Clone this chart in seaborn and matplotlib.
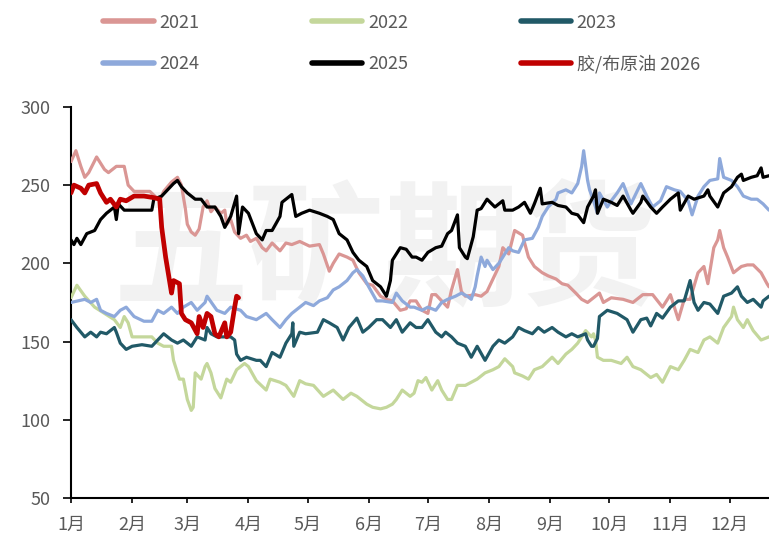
import numpy as np
import pandas as pd
import matplotlib
matplotlib.use("Agg")
import matplotlib.pyplot as plt
import seaborn as sns

sns.set_style("ticks")
plt.rcParams['font.family'] = ['Noto Sans CJK SC', 'DejaVu Sans']

# x = day of year, y = ratio
d2021 = [0, 2.5, 5, 7, 9, 13, 17, 19, 23, 27, 29, 32, 35, 40, 45, 47, 51, 54, 56, 58, 59, 61, 63, 65, 67, 69, 71, 73,
         76, 78, 79, 81, 83, 86, 89, 91, 94, 97, 99, 102, 106, 109, 112, 116, 121, 126, 128, 131, 133, 136, 140, 143,
         146, 150, 153, 157, 160, 163, 167, 170, 172, 175, 178, 181, 183, 185, 188, 191, 193, 196, 198, 200, 205, 208,
         211, 214, 217, 219, 222, 225, 229, 232, 235, 239, 242, 246, 249, 252, 256, 259, 262, 266, 268, 270, 274, 280,
         285, 290, 295, 300, 304, 308, 311, 314, 318, 321, 323, 326, 328, 329, 331, 333, 336, 340, 343, 346, 350, 353, 354]
v2021 = [265, 272, 262, 255, 258, 268, 260, 258, 262, 262, 250, 246, 246, 246, 240, 246, 252, 255, 250, 235, 225, 220,
         218, 222, 236, 240, 233, 236, 232, 234, 225, 228, 220, 216, 218, 214, 216, 210, 208, 213, 208, 213, 212, 214,
         211, 212, 206, 195, 200, 206, 204, 202, 194, 187, 186, 179, 177, 176, 170, 171, 176, 176, 170, 168, 180, 180,
         176, 172, 183, 196, 182, 179, 180, 179, 182, 190, 198, 210, 206, 221, 218, 204, 198, 194, 192, 190, 187, 186,
         181, 177, 175, 179, 181, 175, 178, 177, 175, 180, 180, 172, 180, 164, 177, 177, 194, 198, 187, 210, 215, 221,
         210, 204, 194, 198, 199, 199, 194, 187, 185]

d2022 = [0, 3, 7, 12, 17, 22, 25, 27, 29, 31, 36, 41, 44, 47, 51, 52, 55, 57, 59, 61, 62, 63, 66, 68, 69, 71, 73, 76,
         79, 81, 84, 88, 90, 94, 99, 101, 106, 109, 113, 116, 119, 123, 128, 133, 138, 142, 145, 148, 150, 153, 157,
         160, 163, 165, 168, 172, 174, 176, 178, 180, 183, 186, 188, 191, 193, 196, 200, 203, 206, 210, 214, 217, 220,
         224, 225, 229, 232, 235, 239, 244, 247, 251, 254, 257, 261, 264, 265, 266, 267, 270, 274, 279, 282, 285, 289,
         294, 297, 300, 304, 308, 311, 314, 318, 321, 324, 328, 331, 335, 336, 338, 341, 343, 346, 350, 354]
v2022 = [178, 186, 179, 172, 168, 164, 159, 166, 162, 153, 153, 153, 149, 147, 147, 138, 126, 126, 113, 106, 108, 130,
         126, 134, 136, 130, 120, 114, 126, 124, 132, 136, 134, 125, 119, 126, 124, 122, 115, 125, 123, 122, 115, 119,
         113, 117, 115, 112, 110, 108, 107, 108, 110, 113, 119, 115, 117, 125, 124, 127, 119, 125, 119, 113, 113, 122,
         122, 124, 126, 130, 132, 134, 139, 134, 130, 128, 126, 132, 134, 140, 136, 142, 145, 149, 157, 153, 155, 151,
         140, 138, 138, 136, 140, 134, 132, 127, 129, 124, 134, 132, 138, 145, 143, 151, 153, 149, 159, 166, 172, 164,
         159, 164, 157, 151, 153]

d2023 = [0, 3, 7, 10, 13, 15, 18, 22, 23, 25, 28, 31, 36, 41, 44, 47, 51, 54, 57, 61, 64, 68, 69, 71, 74, 78, 81, 83,
         84, 86, 89, 94, 96, 99, 102, 106, 109, 112, 112.5, 113, 116, 119, 125, 128, 131, 135, 138, 141, 145, 148, 151,
         155, 158, 162, 165, 168, 172, 175, 178, 181, 185, 188, 190, 193, 196, 200, 203, 206, 210, 214, 217, 220, 224,
         227, 230, 234, 237, 240, 244, 247, 251, 254, 257, 261, 262, 264, 265, 267, 268, 272, 277, 282, 285, 289, 292,
         294, 297, 300, 304, 308, 311, 314, 316, 318, 321, 324, 328, 331, 335, 338, 340, 343, 346, 350, 351, 354]
v2023 = [164, 159, 153, 156, 153, 156, 155, 159, 156, 149, 145, 147, 148, 147, 151, 155, 151, 149, 151, 147, 153, 151,
         159, 155, 153, 153, 153, 151, 142, 138, 140, 138, 138, 134, 143, 140, 149, 155, 162, 147, 156, 155, 156, 164,
         162, 159, 151, 159, 165, 156, 159, 164, 164, 159, 164, 156, 162, 159, 159, 164, 156, 153, 156, 153, 149, 147,
         140, 147, 138, 147, 151, 149, 153, 159, 157, 155, 159, 156, 159, 156, 153, 155, 153, 155, 151, 147, 147, 152,
         166, 170, 168, 164, 156, 164, 165, 160, 168, 165, 172, 176, 176, 189, 175, 170, 175, 174, 168, 179, 181, 185,
         179, 175, 177, 172, 176, 179]

d2024 = [0, 7, 10, 13, 15, 18, 22, 25, 28, 32, 37, 41, 44, 47, 51, 54, 57, 61, 64, 68, 69, 74, 78, 81, 86, 89, 94, 99,
         102, 106, 109, 112, 116, 119, 123, 126, 130, 133, 136, 140, 143, 145, 148, 151, 155, 158, 163, 165, 168, 172,
         174, 178, 181, 185, 188, 191, 195, 198, 201, 203, 205, 206, 208, 210, 211, 214, 217, 219, 222, 224, 227, 230,
         234, 237, 239, 242, 246, 247, 251, 254, 257, 259, 260, 262, 263, 265, 267, 268, 272, 274, 277, 280, 284, 289,
         292, 295, 299, 302, 306, 309, 313, 315, 318, 321, 324, 328, 329, 331, 335, 338, 341, 345, 348, 351, 354]
v2024 = [175, 177, 175, 177, 170, 168, 166, 170, 172, 166, 163, 163, 170, 168, 172, 168, 172, 175, 170, 175, 179, 170,
         168, 172, 170, 166, 164, 168, 164, 159, 164, 168, 172, 175, 173, 176, 178, 183, 185, 189, 194, 196, 192, 185,
         176, 176, 175, 181, 176, 172, 172, 170, 172, 170, 175, 177, 179, 181, 179, 177, 185, 192, 204, 198, 202, 196,
         200, 204, 210, 208, 207, 215, 216, 223, 230, 236, 241, 245, 247, 245, 251, 262, 272, 253, 247, 240, 232, 245,
         236, 240, 245, 251, 238, 251, 243, 236, 240, 249, 247, 246, 240, 231, 243, 249, 253, 254, 267, 255, 253, 249,
         243, 241, 241, 238, 234]

d2025 = [0, 1.5, 3, 5, 8, 12, 15, 18, 22, 23, 24, 27, 31, 36, 41, 42, 46, 49, 52, 54, 56, 59, 63, 66, 69, 73, 76, 78,
         81, 84, 85, 87, 90, 94, 97, 99, 102, 106, 107, 111, 112, 114, 117, 121, 126, 130, 133, 136, 140, 143, 146,
         150, 153, 157, 160, 162, 163, 167, 170, 173, 175, 178, 181, 185, 188, 191, 193, 196, 197, 200, 201, 204, 206,
         208, 211, 215, 219, 220, 224, 227, 230, 233, 235, 238, 239, 244, 247, 251, 254, 257, 260, 262, 265, 266, 267,
         270, 274, 277, 280, 284, 285, 289, 290, 294, 297, 300, 304, 308, 309, 313, 316, 321, 323, 324, 328, 331, 335,
         338, 340, 341, 345, 348, 350, 351, 354]
v2025 = [215, 212, 216, 212, 219, 221, 228, 232, 236, 228, 238, 234, 234, 234, 234, 241, 243, 247, 251, 253, 249, 245,
         241, 241, 236, 236, 230, 223, 230, 243, 219, 236, 232, 219, 215, 221, 221, 230, 239, 243, 244, 230, 232, 234,
         232, 230, 228, 219, 215, 207, 202, 198, 189, 185, 179, 189, 202, 210, 209, 204, 204, 202, 207, 210, 211, 219,
         221, 231, 210, 204, 203, 217, 234, 235, 241, 236, 240, 234, 234, 236, 239, 232, 238, 248, 238, 239, 237, 236,
         232, 231, 226, 236, 243, 247, 232, 241, 239, 237, 243, 234, 232, 239, 243, 236, 232, 236, 241, 245, 234, 243,
         241, 243, 247, 243, 236, 245, 249, 255, 257, 253, 255, 256, 261, 255, 256]

d2026 = [0, 1.5, 5, 7, 9, 13, 15, 18, 20, 23, 25, 28, 32, 37, 42, 45, 46, 48, 51, 52, 55, 56, 58, 61, 64, 65, 67, 69,
         71, 73, 75, 78, 79, 81, 83, 84, 85]
v2026 = [245, 250, 248, 245, 250, 251, 245, 239, 241, 236, 241, 240, 243, 243, 242, 241, 223, 204, 181, 189, 187, 168,
         164, 162, 155, 166, 159, 168, 166, 155, 153, 162, 153, 156, 172, 179, 178]

series = [
    ("2021", d2021, v2021, "#DA9694", 2.3),
    ("2022", d2022, v2022, "#C4D79B", 2.3),
    ("2023", d2023, v2023, "#215967", 2.3),
    ("2024", d2024, v2024, "#8EA9DB", 2.3),
    ("2025", d2025, v2025, "#000000", 2.3),
    ("胶/布原油 2026", d2026, v2026, "#C00000", 3.4),
]

month_days = [0, 31, 59, 90, 120, 151, 181, 212, 243, 273, 304, 334]
month_labels = [f"{m}月" for m in range(1, 13)]

fig = plt.figure(figsize=(7.69, 5.38), dpi=100)
ax = fig.add_axes([0.0923, 0.0743, 0.9077, 0.727])

# watermark
ax.text(0.45, 0.62, "五矿期货", transform=ax.transAxes, fontsize=98, fontweight="bold",
        color="#F2F2F2", ha="center", va="center", zorder=0)

lines = {}
for name, xs, ys, col, lw in series:
    df = pd.DataFrame({"day": xs, "val": ys})
    sns.lineplot(data=df, x="day", y="val", ax=ax, color=col, linewidth=lw, label=name,
                 legend=False, zorder=3)
    lines[name] = ax.lines[-1]

ax.set_xlim(0, 354)
ax.set_ylim(50, 300)
ax.set_yticks([50, 100, 150, 200, 250, 300])
ax.set_xticks(month_days)
ax.set_xticklabels(month_labels)
ax.set_xlabel("")
ax.set_ylabel("")
ax.tick_params(axis="both", labelsize=13, labelcolor="#595959", color="black", width=1.2, direction="out")
ax.tick_params(axis="y", length=6, pad=9)
ax.tick_params(axis="x", length=3.6, pad=9)
for s in ["top", "right"]:
    ax.spines[s].set_visible(False)
for s in ["left", "bottom"]:
    ax.spines[s].set_linewidth(1.5)
    ax.spines[s].set_color("black")

order = ["2021", "2024", "2022", "2025", "2023", "胶/布原油 2026"]
leg = fig.legend([lines[k] for k in order], order, ncol=3, loc="upper center",
                 bbox_to_anchor=(0.522, 1.005), frameon=False, fontsize=13,
                 handlelength=2.8, handletextpad=0.3, columnspacing=6.25, labelspacing=1.3)
for t in leg.get_texts():
    t.set_color("#595959")
for h in leg.legend_handles:
    h.set_linewidth(4)

fig.savefig("out.png", dpi=100)
